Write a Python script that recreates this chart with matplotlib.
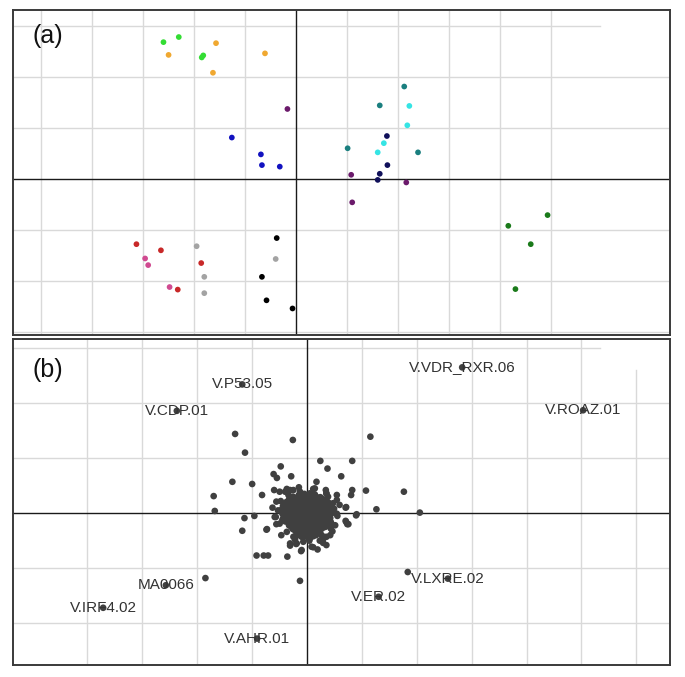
import matplotlib
matplotlib.use("Agg")
import matplotlib.pyplot as plt

plt.rcParams['font.family'] = ['Liberation Sans', 'DejaVu Sans']

# ---------------- Panel (a) data: groups of samples ----------------
a_groups = ["lime", "orange", "purple", "blue", "teal", "cyan", "navy",
            "darkgreen", "red", "pink", "gray", "black"]
a_colors = ["#33dd33", "#f0a830", "#6b1a6b", "#1212c0", "#1a7f7f", "#35e4e4",
            "#10105a", "#1a7a1a", "#c82828", "#d04a90", "#a3a3a3", "#000000"]
a_x = [
    [-2.60, -2.30, -1.85, -1.82],
    [-2.50, -1.57, -1.63, -0.61],
    [-0.17, 1.08, 1.10, 2.16],
    [-1.26, -0.69, -0.67, -0.32],
    [1.01, 1.64, 2.12, 2.39],
    [2.22, 2.18, 1.72, 1.60],
    [1.78, 1.79, 1.64, 1.60],
    [4.16, 4.93, 4.60, 4.30],
    [-3.13, -2.65, -1.86, -2.32],
    [-2.96, -2.90, -2.48],
    [-1.95, -1.80, -1.80, -0.40],
    [-0.38, -0.67, -0.58, -0.07],
]
a_y = [
    [2.68, 2.78, 2.38, 2.42],
    [2.43, 2.66, 2.08, 2.46],
    [1.37, 0.08, -0.46, -0.07],
    [0.81, 0.48, 0.27, 0.24],
    [0.60, 1.44, 1.81, 0.52],
    [1.43, 1.05, 0.70, 0.52],
    [0.84, 0.27, 0.10, -0.02],
    [-0.92, -0.71, -1.28, -2.16],
    [-1.28, -1.40, -1.65, -2.17],
    [-1.56, -1.69, -2.12],
    [-1.32, -1.92, -2.24, -1.57],
    [-1.16, -1.92, -2.38, -2.54],
]

# ---------------- Panel (b) data: motifs ----------------
b_labels = ["V.P53.05", "V.CDP.01", "MA0066", "V.IRF4.02", "V.AHR.01",
            "V.VDR_RXR.06", "V.ROAZ.01", "V.LXRE.02", "V.ER.02"]
b_lab_x = [-1.17, -2.36, -2.56, -3.70, -0.90, 2.83, 5.03, 2.57, 1.31]
b_lab_y = [2.34, 1.86, -1.31, -1.72, -2.28, 2.65, 1.87, -1.19, -1.52]

b_out_x = [-1.30, -0.25, 1.16, -1.12, 0.25, 0.83, 0.38, -0.47, -0.60, -0.54,
           -0.28, 0.63, -1.35, -0.99, 0.18, -1.69, -0.81, 0.83, 0.81, 1.08,
           1.77, -1.67, -0.95, -1.13, 1.27, 2.06, 0.90, 0.71, -1.17, -0.72,
           0.71, 0.74, 0.52, -0.91, -0.78, -0.70, -0.35, -0.30, -0.19, -0.10,
           0.09, 0.20, 0.36, 0.31, 0.47, -0.56, -0.55, -0.49, -0.36, 0.55,
           0.36, 0.55, -0.59, -1.84, -0.12, 1.84]
b_out_y = [1.44, 1.33, 1.39, 1.10, 0.95, 0.95, 0.81, 0.85, 0.71, 0.64,
           0.67, 0.67, 0.57, 0.53, 0.57, 0.31, 0.33, 0.42, 0.33, 0.41,
           0.39, 0.04, -0.05, -0.09, 0.07, 0.01, -0.04, 0.10, -0.32, -0.29,
           -0.14, -0.20, -0.22, -0.77, -0.77, -0.77, -0.79, -0.59, -0.56, -0.69,
           -0.61, -0.66, -0.58, -0.43, -0.33, -0.07, 0.21, 0.39, 0.44, 0.33,
           0.36, 0.24, 0.42, -1.18, -1.23, -1.07]

b_fringe_x = [0.72, 0.91, -0.73, 0.72, 0.76, -0.30, -0.18, -0.09, 0.12, 0.30,
              0.21, 0.36, -0.39, -0.24, -0.12, 0.06, 0.36, 0.39, 0.48, 0.55,
              0.45, -0.58, -0.52, -0.49, -0.36, -0.24, -0.06, 0.06, 0.27,
              0.50, 0.44, -0.47, -0.44, 0.12, -0.14, 0.30, -0.33]
b_fringe_y = [0.11, -0.02, -0.30, -0.16, -0.20, -0.55, -0.55, -0.67, -0.62, -0.54,
              -0.34, -0.43, 0.39, 0.42, 0.39, 0.36, 0.36, 0.30, 0.18, -0.01,
              -0.19, -0.07, 0.05, -0.19, -0.34, -0.43, -0.52, -0.46, -0.40,
              0.08, -0.28, 0.22, -0.12, 0.44, 0.47, -0.47, 0.33]

b_core_x = [-0.14, -0.04, 0.07, 0.15,
            -0.31, -0.20, -0.12, 0.02, 0.11, 0.21, 0.29,
            -0.37, -0.28, -0.16, -0.07, 0.05, 0.12, 0.25, 0.32, 0.40,
            -0.43, -0.30, -0.21, -0.08, 0.03, 0.11, 0.22, 0.30, 0.41,
            -0.46, -0.33, -0.24, -0.11, -0.02, 0.10, 0.18, 0.30, 0.37, 0.48,
            -0.44, -0.36, -0.23, -0.14, -0.03, 0.07, 0.19, 0.26, 0.38, 0.45,
            -0.42, -0.33, -0.20, -0.12, 0.01, 0.09, 0.21, 0.30, 0.43,
            -0.39, -0.26, -0.17, -0.05, 0.04, 0.16, 0.24, 0.35, 0.44,
            -0.32, -0.23, -0.11, -0.02, 0.10, 0.18, 0.29, 0.41,
            -0.25, -0.13, -0.04, 0.08, 0.16, 0.28,
            -0.17, -0.06, 0.06, 0.13, 0.25,
            -0.09, 0.02, 0.12,
            -0.62, -0.55, 0.56, 0.60, -0.46, 0.43, 0.35, -0.30, 0.05, -0.21,
            0.24, 0.15]
b_core_y = [0.33, 0.35, 0.32, 0.34,
            0.27, 0.26, 0.28, 0.27, 0.25, 0.28, 0.26,
            0.20, 0.21, 0.19, 0.20, 0.21, 0.19, 0.20, 0.22, 0.19,
            0.13, 0.12, 0.14, 0.13, 0.12, 0.14, 0.13, 0.12, 0.14,
            0.06, 0.07, 0.05, 0.06, 0.07, 0.05, 0.06, 0.07, 0.05, 0.06,
            -0.01, 0.00, -0.02, -0.01, 0.00, -0.02, -0.01, 0.00, -0.02, -0.01,
            -0.08, -0.07, -0.09, -0.08, -0.07, -0.09, -0.08, -0.07, -0.09,
            -0.15, -0.14, -0.16, -0.15, -0.14, -0.16, -0.15, -0.14, -0.16,
            -0.22, -0.21, -0.23, -0.22, -0.21, -0.23, -0.22, -0.21,
            -0.29, -0.30, -0.28, -0.29, -0.30, -0.28,
            -0.36, -0.37, -0.35, -0.36, -0.37,
            -0.43, -0.44, -0.42,
            0.10, -0.20, -0.05, 0.15, -0.40, -0.40, 0.42, 0.42, -0.50, -0.48,
            -0.50, 0.45]

b_core2_x = [-0.25, -0.15, -0.05, 0.05, 0.16, 0.25,
             -0.33, -0.22, -0.11, -0.01, 0.08, 0.18, 0.27, 0.36,
             -0.39, -0.26, -0.14, -0.03, 0.08, 0.17, 0.28, 0.36,
             -0.40, -0.28, -0.17, -0.06, 0.06, 0.15, 0.26, 0.34, 0.43,
             -0.40, -0.29, -0.18, -0.07, 0.04, 0.14, 0.24, 0.33, 0.42,
             -0.39, -0.29, -0.18, -0.07, 0.03, 0.13, 0.23, 0.34,
             -0.37, -0.26, -0.16, -0.04, 0.05, 0.16, 0.26, 0.36,
             -0.33, -0.22, -0.10, 0.00, 0.10, 0.21, 0.31,
             -0.28, -0.18, -0.07, 0.03, 0.13, 0.23, 0.34,
             -0.20, -0.09, 0.01, 0.11, 0.21,
             -0.14, -0.04, 0.07, 0.17]
b_core2_y = [0.30, 0.31, 0.29, 0.30, 0.31, 0.29,
             0.23, 0.24, 0.22, 0.23, 0.24, 0.22, 0.23, 0.24,
             0.16, 0.17, 0.15, 0.16, 0.17, 0.15, 0.16, 0.17,
             0.09, 0.10, 0.08, 0.09, 0.10, 0.08, 0.09, 0.10, 0.08,
             0.03, 0.02, 0.04, 0.03, 0.02, 0.04, 0.03, 0.02, 0.04,
             -0.04, -0.05, -0.03, -0.04, -0.05, -0.03, -0.04, -0.05,
             -0.11, -0.12, -0.10, -0.11, -0.12, -0.10, -0.11, -0.12,
             -0.18, -0.19, -0.17, -0.18, -0.19, -0.17, -0.18,
             -0.25, -0.26, -0.24, -0.25, -0.26, -0.24, -0.25,
             -0.33, -0.32, -0.34, -0.33, -0.32,
             -0.40, -0.41, -0.39, -0.40]

a_xticks = [-5, -4, -3, -2, -1, 1, 2, 3, 4, 5]
a_yticks = [-3, -2, -1, 1, 2]
a_top_grid = 3
b_xticks = [-4, -3, -2, -1, 1, 2, 3, 4, 5]
b_yticks = [-2, -1, 1, 2]
b_top_grid = 3
b_right_grid = 6

W, H = 685, 677
fig = plt.figure(figsize=(W / 100, H / 100), dpi=100)
GRID = "#d9d9d9"


def frame(ax, xt, yt, xlim, ylim):
    ax.set_xlim(*xlim)
    ax.set_ylim(*ylim)
    for v in xt:
        ax.axvline(v, color=GRID, lw=1.0, zorder=0)
    for v in yt:
        ax.axhline(v, color=GRID, lw=1.0, zorder=0)
    ax.axvline(0, color="#1a1a1a", lw=1.0, zorder=1)
    ax.axhline(0, color="#1a1a1a", lw=1.0, zorder=1)
    ax.set_xticks([])
    ax.set_yticks([])
    for s in ax.spines.values():
        s.set_color("#3a3a3a")
        s.set_linewidth(1.4)


# Panel (a)
axa = fig.add_axes([13 / W, 1 - 335 / H, (670 - 13) / W, (335 - 10) / H])
frame(axa, a_xticks, a_yticks, (-5.55, 7.33), (-3.06, 3.31))
axa.plot([-5.55, 5.96], [a_top_grid, a_top_grid], color=GRID, lw=1.0, zorder=0)
for xs, ys, c in zip(a_x, a_y, a_colors):
    axa.scatter(xs, ys, s=17, color=c, edgecolors="none", zorder=3)
axa.text(47.5 / W, 1 - 36 / H, "(a)", transform=fig.transFigure,
         fontsize=18, ha="center", va="center", color="#111111")

# Panel (b)
axb = fig.add_axes([13 / W, 1 - 665 / H, (670 - 13) / W, (665 - 339.3) / H])
frame(axb, b_xticks, b_yticks, (-5.34, 6.61), (-2.76, 3.16))
axb.plot([-5.34, 5.33], [b_top_grid, b_top_grid], color=GRID, lw=1.0, zorder=0)
axb.plot([b_right_grid, b_right_grid], [-2.76, 2.6], color=GRID, lw=1.0, zorder=0)
dot = dict(s=23, color="#404040", edgecolors="none", zorder=3)
axb.scatter(b_core_x, b_core_y, **dot)
axb.scatter(b_core2_x, b_core2_y, **dot)
axb.scatter(b_fringe_x, b_fringe_y, **dot)
axb.scatter(b_out_x, b_out_y, **dot)
axb.scatter(b_lab_x, b_lab_y, **dot)
for lx, ly, t in zip(b_lab_x, b_lab_y, b_labels):
    axb.text(lx, ly, t, fontsize=11, ha="center", va="center",
             color="#333333", zorder=4)
axb.text(47.5 / W, 1 - 370 / H, "(b)", transform=fig.transFigure,
         fontsize=18, ha="center", va="center", color="#111111")

fig.savefig("out.png", dpi=100, facecolor="white")
